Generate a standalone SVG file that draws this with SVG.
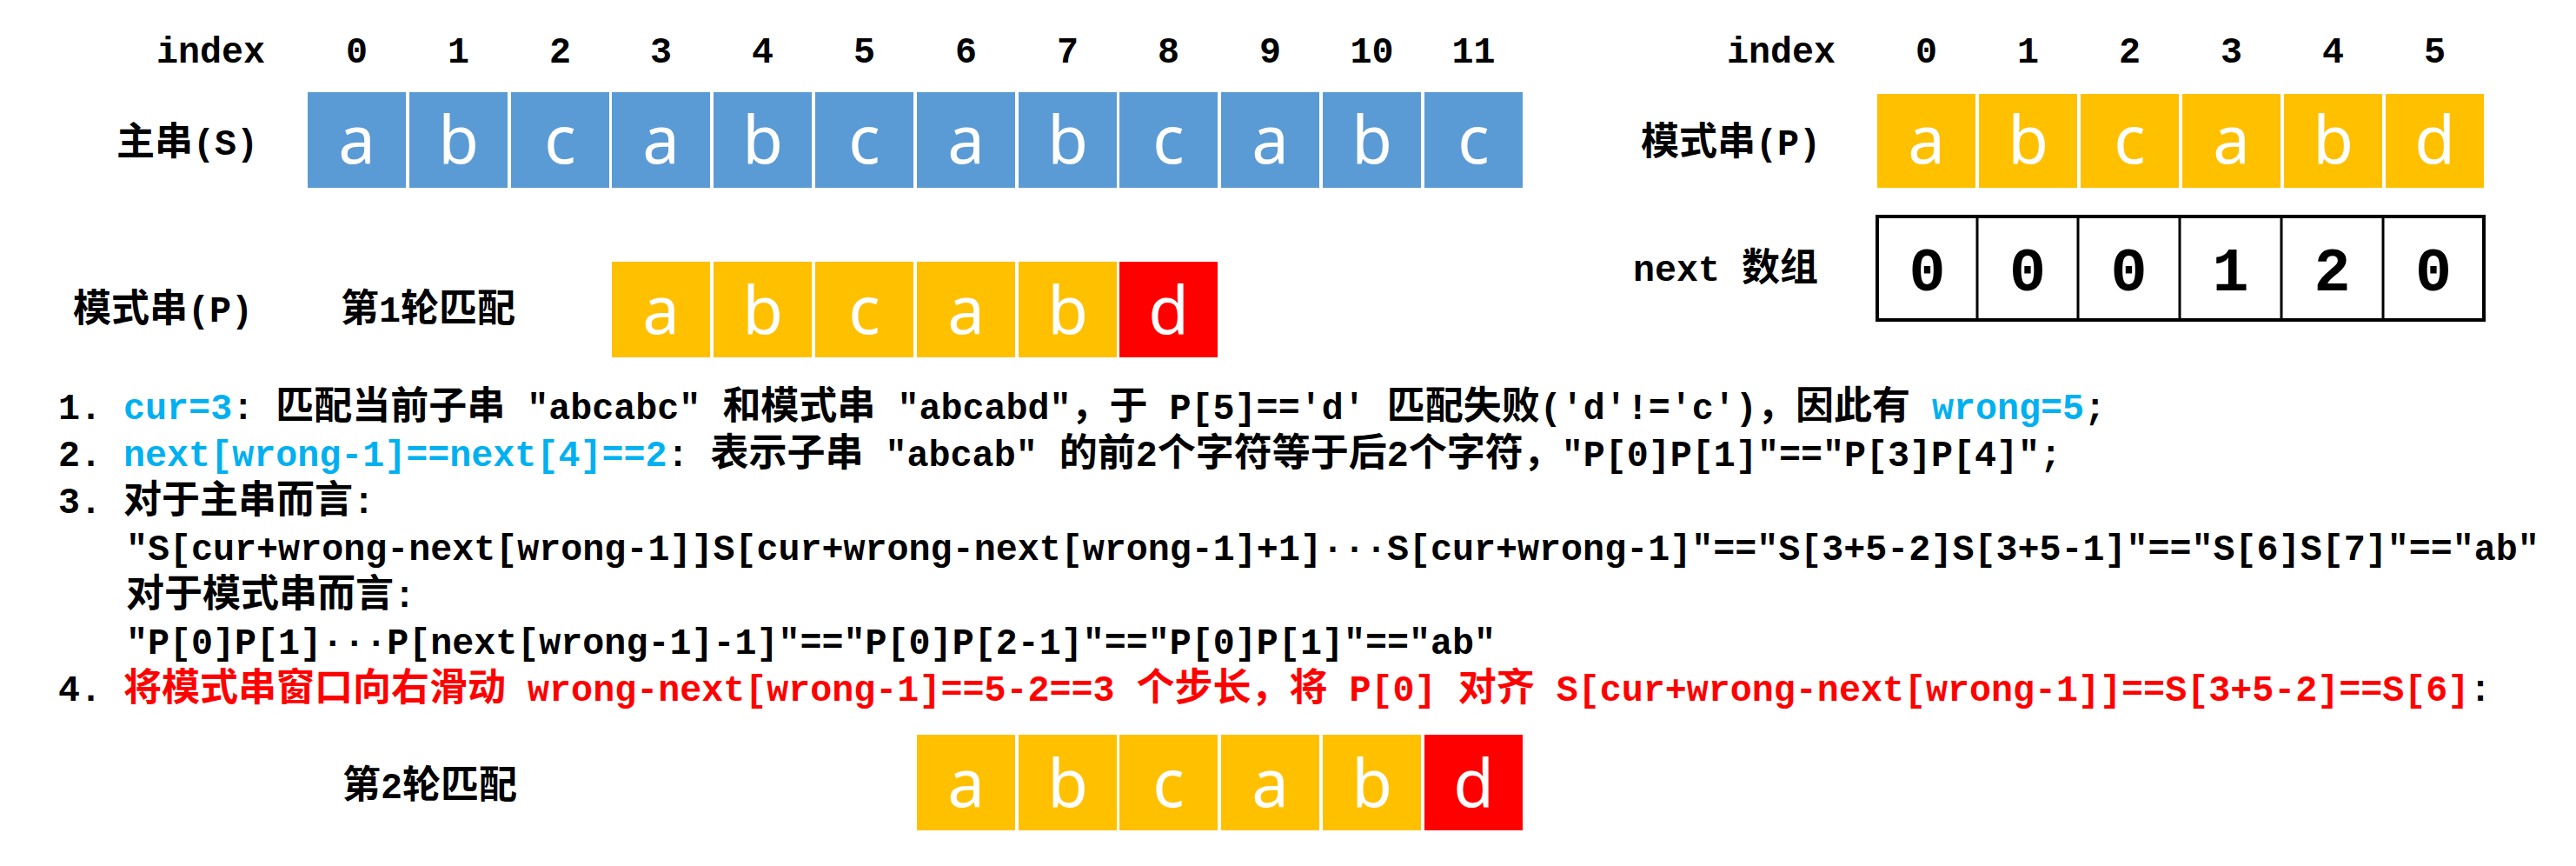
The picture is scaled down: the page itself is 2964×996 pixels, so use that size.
<svg xmlns="http://www.w3.org/2000/svg" width="2964" height="996" viewBox="0 0 2964 996">
<style>
.t{font-family:'Liberation Mono','Noto Sans CJK SC',monospace;font-weight:bold;font-size:41.7px;fill:#000;white-space:pre}
.c{font-family:'Noto Sans CJK SC',sans-serif;font-size:44px;font-weight:bold}
.b{fill:#00B0F0}
.r{fill:#FF0000}
.m{text-anchor:middle}
.cs{fill:#5B9BD5}
.cy{fill:#FFC000}
.cr{fill:#FF0000}
.ch{font-family:'Noto Sans','DejaVu Sans',sans-serif;font-size:76px;fill:#fff;text-anchor:middle}
.nx{font-family:'Liberation Mono',monospace;font-weight:bold;font-size:70px;text-anchor:middle;fill:#000}
</style>

<g id="labels">
<text class="t" x="180" y="72">index</text>
<text class="t" x="1987" y="72">index</text>
<text class="t" x="134" y="178"><tspan class="c">主串</tspan>(S)</text>
<text class="t" x="1888" y="178"><tspan class="c">模式串</tspan>(P)</text>
<text class="t" x="1879" y="323">next <tspan class="c">数组</tspan></text>
<text class="t" x="84" y="370"><tspan class="c">模式串</tspan>(P)</text>
<text class="t" x="392" y="370"><tspan class="c">第</tspan>1<tspan class="c">轮匹配</tspan></text>
<text class="t" x="394" y="918"><tspan class="c">第</tspan>2<tspan class="c">轮匹配</tspan></text>
</g>

<g id="index-S">
<text class="t m" x="410.5" y="72">0</text>
<text class="t m" x="527.5" y="72">1</text>
<text class="t m" x="644.5" y="72">2</text>
<text class="t m" x="760.5" y="72">3</text>
<text class="t m" x="877.5" y="72">4</text>
<text class="t m" x="994.5" y="72">5</text>
<text class="t m" x="1111.5" y="72">6</text>
<text class="t m" x="1228.5" y="72">7</text>
<text class="t m" x="1344.5" y="72">8</text>
<text class="t m" x="1461.5" y="72">9</text>
<text class="t m" x="1578.5" y="72">10</text>
<text class="t m" x="1695.5" y="72">11</text>
</g>

<g id="main-string-S">
<rect class="cs" x="354" y="106" width="113" height="110"/>
<rect class="cs" x="471" y="106" width="113" height="110"/>
<rect class="cs" x="588" y="106" width="113" height="110"/>
<rect class="cs" x="704" y="106" width="113" height="110"/>
<rect class="cs" x="821" y="106" width="113" height="110"/>
<rect class="cs" x="938" y="106" width="113" height="110"/>
<rect class="cs" x="1055" y="106" width="113" height="110"/>
<rect class="cs" x="1172" y="106" width="113" height="110"/>
<rect class="cs" x="1288" y="106" width="113" height="110"/>
<rect class="cs" x="1405" y="106" width="113" height="110"/>
<rect class="cs" x="1522" y="106" width="113" height="110"/>
<rect class="cs" x="1639" y="106" width="113" height="110"/>
<text class="ch" x="410.5" y="188">a</text>
<text class="ch" x="527.5" y="188">b</text>
<text class="ch" x="644.5" y="188">c</text>
<text class="ch" x="760.5" y="188">a</text>
<text class="ch" x="877.5" y="188">b</text>
<text class="ch" x="994.5" y="188">c</text>
<text class="ch" x="1111.5" y="188">a</text>
<text class="ch" x="1228.5" y="188">b</text>
<text class="ch" x="1344.5" y="188">c</text>
<text class="ch" x="1461.5" y="188">a</text>
<text class="ch" x="1578.5" y="188">b</text>
<text class="ch" x="1695.5" y="188">c</text>
</g>

<g id="index-P">
<text class="t m" x="2216.5" y="72">0</text>
<text class="t m" x="2333.5" y="72">1</text>
<text class="t m" x="2450.5" y="72">2</text>
<text class="t m" x="2567.5" y="72">3</text>
<text class="t m" x="2684.5" y="72">4</text>
<text class="t m" x="2801.5" y="72">5</text>
</g>

<g id="pattern-P">
<rect class="cy" x="2160" y="108" width="113" height="108"/>
<rect class="cy" x="2277" y="108" width="113" height="108"/>
<rect class="cy" x="2394" y="108" width="113" height="108"/>
<rect class="cy" x="2511" y="108" width="113" height="108"/>
<rect class="cy" x="2628" y="108" width="113" height="108"/>
<rect class="cy" x="2745" y="108" width="113" height="108"/>
<text class="ch" x="2216.5" y="188">a</text>
<text class="ch" x="2333.5" y="188">b</text>
<text class="ch" x="2450.5" y="188">c</text>
<text class="ch" x="2567.5" y="188">a</text>
<text class="ch" x="2684.5" y="188">b</text>
<text class="ch" x="2801.5" y="188">d</text>
</g>

<g id="next-array">
<rect x="2160" y="249" width="698" height="119" fill="#fff" stroke="#000" stroke-width="4"/>
<g stroke="#000" stroke-width="3">
<line x1="2275" y1="249" x2="2275" y2="368"/>
<line x1="2391" y1="249" x2="2391" y2="368"/>
<line x1="2508" y1="249" x2="2508" y2="368"/>
<line x1="2625" y1="249" x2="2625" y2="368"/>
<line x1="2742" y1="249" x2="2742" y2="368"/>
</g>
<text class="nx" x="2217.5" y="334">0</text>
<text class="nx" x="2333" y="334">0</text>
<text class="nx" x="2449.5" y="334">0</text>
<text class="nx" x="2566.5" y="334">1</text>
<text class="nx" x="2683.5" y="334">2</text>
<text class="nx" x="2800" y="334">0</text>
</g>

<g id="round-1">
<rect class="cy" x="704" y="301" width="113" height="110"/>
<rect class="cy" x="821" y="301" width="113" height="110"/>
<rect class="cy" x="938" y="301" width="113" height="110"/>
<rect class="cy" x="1055" y="301" width="113" height="110"/>
<rect class="cy" x="1172" y="301" width="113" height="110"/>
<rect class="cr" x="1288" y="301" width="113" height="110"/>
<text class="ch" x="760.5" y="384">a</text>
<text class="ch" x="877.5" y="384">b</text>
<text class="ch" x="994.5" y="384">c</text>
<text class="ch" x="1111.5" y="384">a</text>
<text class="ch" x="1228.5" y="384">b</text>
<text class="ch" x="1344.5" y="384">d</text>
</g>

<g id="round-2">
<rect class="cy" x="1055" y="845" width="113" height="110"/>
<rect class="cy" x="1172" y="845" width="113" height="110"/>
<rect class="cy" x="1288" y="845" width="113" height="110"/>
<rect class="cy" x="1405" y="845" width="113" height="110"/>
<rect class="cy" x="1522" y="845" width="113" height="110"/>
<rect class="cr" x="1639" y="845" width="113" height="110"/>
<text class="ch" x="1111.5" y="928">a</text>
<text class="ch" x="1228.5" y="928">b</text>
<text class="ch" x="1344.5" y="928">c</text>
<text class="ch" x="1461.5" y="928">a</text>
<text class="ch" x="1578.5" y="928">b</text>
<text class="ch" x="1695.5" y="928">d</text>
</g>

<g id="notes">
<text class="t" x="67" y="482" xml:space="preserve">1. <tspan class="b">cur=3</tspan>: <tspan class="c">匹配当前子串</tspan> "abcabc" <tspan class="c">和模式串</tspan> "abcabd"<tspan class="c">，于</tspan> P[5]=='d' <tspan class="c">匹配失败</tspan>('d'!='c')<tspan class="c">，因此有</tspan> <tspan class="b">wrong=5</tspan>;</text>
<text class="t" x="67" y="536" xml:space="preserve">2. <tspan class="b">next[wrong-1]==next[4]==2</tspan>: <tspan class="c">表示子串</tspan> "abcab" <tspan class="c">的前</tspan>2<tspan class="c">个字符等于后</tspan>2<tspan class="c">个字符，</tspan>"P[0]P[1]"=="P[3]P[4]";</text>
<text class="t" x="67" y="590" xml:space="preserve">3. <tspan class="c">对于主串而言</tspan>:</text>
<text class="t" x="145" y="644" xml:space="preserve">"S[cur+wrong-next[wrong-1]]S[cur+wrong-next[wrong-1]+1]···S[cur+wrong-1]"=="S[3+5-2]S[3+5-1]"=="S[6]S[7]"=="ab"</text>
<text class="t" x="145" y="698" xml:space="preserve"><tspan class="c">对于模式串而言</tspan>:</text>
<text class="t" x="145" y="752" xml:space="preserve">"P[0]P[1]···P[next[wrong-1]-1]"=="P[0]P[2-1]"=="P[0]P[1]"=="ab"</text>
<text class="t" x="67" y="806" xml:space="preserve">4. <tspan class="r"><tspan class="c">将模式串窗口向右滑动</tspan> wrong-next[wrong-1]==5-2==3 <tspan class="c">个步长，将</tspan> P[0] <tspan class="c">对齐</tspan> S[cur+wrong-next[wrong-1]]==S[3+5-2]==S[6]</tspan>:</text>
</g>
</svg>
